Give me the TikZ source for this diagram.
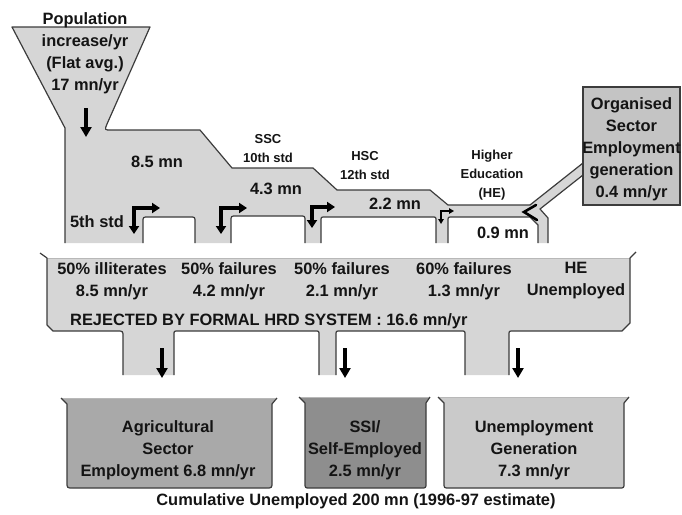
\documentclass[tikz,border=0pt]{standalone}
\usepackage{fontspec}
\setmainfont{Liberation Sans}
\usetikzlibrary{arrows.meta}
\definecolor{pipegray}{HTML}{D6D6D6}
\definecolor{edgegray}{HTML}{3C3C3C}
\definecolor{topline}{HTML}{B8B8B8}
\definecolor{agrigray}{HTML}{A9A9A9}
\definecolor{ssigray}{HTML}{8E8E8E}
\definecolor{unempgray}{HTML}{CACACA}
\definecolor{orggray}{HTML}{C4C4C4}
\definecolor{txt}{HTML}{141414}
\begin{document}
\begin{tikzpicture}[x=1pt,y=-1pt,
  outline/.style={draw=edgegray, line width=1.2pt, line join=round},
  faint/.style={draw=topline, line width=0.8pt},
  big/.style={font=\fontsize{16.4}{22}\selectfont\bfseries, align=center, inner sep=0pt, text=txt},
  small/.style={font=\fontsize{13}{19}\selectfont\bfseries, align=center, inner sep=0pt, text=txt},
  flow/.style={line width=3.2pt, -{Triangle[length=10pt,width=11pt]}},
  bent/.style={line width=3.2pt, {Triangle[length=8pt,width=10pt]}-{Triangle[length=8pt,width=10pt]}},
  thinbent/.style={line width=1.6pt, {Triangle[length=5pt,width=5.5pt]}-{Triangle[length=5pt,width=5.5pt]}},
]
\useasboundingbox (0,0) rectangle (682,514);

% ---------- upper pipe system ----------
\fill[pipegray] (65,243) -- (65,128) -- (12,27) -- (150,27) -- (107,124) .. controls (104.5,130) .. (111,130)
  -- (200,130) -- (232,168) -- (313,168) -- (337,190) -- (430,190) -- (448,205) -- (530,205) -- (583,163)
  -- (583,175) -- (540,209) -- (548,218) -- (548,243) -- (538,243) -- (538,225) -- (530,217)
  -- (452,217) .. controls (448,217) .. (448,221) -- (448,243) -- (436,243) -- (436,221) .. controls (436,217) .. (432,217)
  -- (325,217) .. controls (321,217) .. (321,221) -- (321,243) -- (305,243) -- (305,221) .. controls (305,216) .. (300,216)
  -- (236,216) .. controls (231,216) .. (231,221) -- (231,243) -- (195,243) -- (195,222) .. controls (195,217) .. (190,217)
  -- (148,217) .. controls (143,217) .. (143,222) -- (143,243) -- cycle;
\draw[outline] (65,243) -- (65,128) -- (12,27) -- (150,27) -- (107,124) .. controls (104.5,130) .. (111,130)
  -- (200,130) -- (232,168) -- (313,168) -- (337,190) -- (430,190) -- (448,205) -- (530,205) -- (583,163);
\draw[outline] (583,175) -- (540,209) -- (548,218) -- (548,243);
\draw[outline] (538,243) -- (538,225) -- (530,217) -- (452,217) .. controls (448,217) .. (448,221) -- (448,243);
\draw[outline] (436,243) -- (436,221) .. controls (436,217) .. (432,217) -- (325,217) .. controls (321,217) .. (321,221) -- (321,243);
\draw[outline] (305,243) -- (305,221) .. controls (305,216) .. (300,216) -- (236,216) .. controls (231,216) .. (231,221) -- (231,243);
\draw[outline] (195,243) -- (195,222) .. controls (195,217) .. (190,217) -- (148,217) .. controls (143,217) .. (143,222) -- (143,243);

% organised sector box
\filldraw[fill=orggray, draw=edgegray, line width=1.2pt] (583,87) rectangle (680,205);
\node[big] (org) at (631.5,149) {Organised\\Sector\\Employment\\generation\\0.4 mn/yr};

% ---------- rejected band ----------
\fill[pipegray] (47,258) -- (630,258) -- (630,323) -- (622,331) -- (513,331) .. controls (509,331) .. (509,335)
  -- (509,375) -- (465,375) -- (465,335) .. controls (465,331) .. (461,331) -- (340,331) .. controls (336,331) .. (336,335)
  -- (336,375) -- (319,375) -- (319,335) .. controls (319,331) .. (315,331) -- (178,331) .. controls (174,331) .. (174,335)
  -- (174,375) -- (123,375) -- (123,337) .. controls (123,331) .. (117,331) -- (53,331) -- (47,325) -- cycle;
\draw[faint] (47,258) -- (630,258);
\draw[outline] (40,253) -- (47,258) -- (47,325) -- (53,331) -- (117,331) .. controls (123,331) .. (123,337) -- (123,375);
\draw[outline] (174,375) -- (174,335) .. controls (174,331) .. (178,331) -- (315,331) .. controls (319,331) .. (319,335) -- (319,375);
\draw[outline] (336,375) -- (336,335) .. controls (336,331) .. (340,331) -- (461,331) .. controls (465,331) .. (465,335) -- (465,375);
\draw[outline] (509,375) -- (509,335) .. controls (509,331) .. (513,331) -- (622,331) -- (630,323) -- (630,258) -- (636,252);

% ---------- bottom containers ----------
\fill[agrigray] (61,398) -- (67,404) -- (67,482) .. controls (67,488) .. (73,488) -- (266,488) .. controls (272,488) .. (272,482) -- (272,404) -- (277,398) -- cycle;
\draw[faint] (61,398) -- (277,398);
\draw[outline] (61,398) -- (67,404) -- (67,482) .. controls (67,488) .. (73,488) -- (266,488) .. controls (272,488) .. (272,482) -- (272,404) -- (277,398);

\fill[ssigray] (299,397) -- (305,403) -- (305,483) .. controls (305,488) .. (310,488) -- (421,488) .. controls (426,488) .. (426,483) -- (426,403) -- (430,397) -- cycle;
\draw[faint] (299,397) -- (430,397);
\draw[outline] (299,397) -- (305,403) -- (305,483) .. controls (305,488) .. (310,488) -- (421,488) .. controls (426,488) .. (426,483) -- (426,403) -- (430,397);

\fill[unempgray] (438,397) -- (444,403) -- (444,483) .. controls (444,488) .. (449,488) -- (619,488) .. controls (624,488) .. (624,483) -- (624,403) -- (629,397) -- cycle;
\draw[faint] (438,397) -- (629,397);
\draw[outline] (438,397) -- (444,403) -- (444,483) .. controls (444,488) .. (449,488) -- (619,488) .. controls (624,488) .. (624,483) -- (624,403) -- (629,397);

% ---------- texts ----------
\node[big] (pop) at (85,53) {Population\\increase/yr\\(Flat avg.)\\17 mn/yr};
\node[big] (m85) at (157,162) {8.5 mn};
\node[big] (std5) at (97,222) {5th std};
\node[small] (ssc) at (268,149) {SSC\\10th std};
\node[big] (m43) at (276,189) {4.3 mn};
\node[small] (hsc) at (365,166) {HSC\\12th std};
\node[big] (m22) at (395,204) {2.2 mn};
\node[small] (he) at (492,175) {Higher\\Education\\(HE)};
\node[big] (m09) at (503,233) {0.9 mn};

\node[big] (c1) at (112,281) {50\% illiterates\\8.5 mn/yr};
\node[big] (c2) at (229,281) {50\% failures\\4.2 mn/yr};
\node[big] (c3) at (342,281) {50\% failures\\2.1 mn/yr};
\node[big] (c4) at (464,281) {60\% failures\\1.3 mn/yr};
\node[big] (c5) at (576,281) {HE\\Unemployed};
\node[big, anchor=west] (rej) at (70,321) {REJECTED BY FORMAL HRD SYSTEM : 16.6 mn/yr};

\node[big] (agri) at (168,450) {Agricultural\\Sector\\Employment 6.8 mn/yr};
\node[big] (ssi) at (365,450) {SSI/\\Self-Employed\\2.5 mn/yr};
\node[big] (unemp) at (534,450) {Unemployment\\Generation\\7.3 mn/yr};
\node[big] (cum) at (356,501) {Cumulative Unemployed 200 mn (1996-97 estimate)};

% ---------- arrows ----------
\coordinate (fa1) at (86,108); \coordinate (fa2) at (86,137);
\draw[flow] (fa1) -- (fa2);

\coordinate (b1d) at (134,234); \coordinate (b1c) at (134,208); \coordinate (b1r) at (160,208);
\draw[bent] (b1d) -- (b1c) -- (b1r);
\coordinate (b2d) at (221,234); \coordinate (b2c) at (221,208); \coordinate (b2r) at (247,208);
\draw[bent] (b2d) -- (b2c) -- (b2r);
\coordinate (b3d) at (312,228); \coordinate (b3c) at (312,207); \coordinate (b3r) at (335,207);
\draw[bent] (b3d) -- (b3c) -- (b3r);
\coordinate (b4d) at (441,224); \coordinate (b4c) at (441,211); \coordinate (b4r) at (454,211);
\draw[thinbent] (b4d) -- (b4c) -- (b4r);
\coordinate (vv) at (524,212); \coordinate (vu) at (536,205); \coordinate (vd) at (537,220);
\draw[line width=2.6pt, line cap=round, line join=miter] (vu) -- (vv) -- (vd);

\coordinate (d1a) at (162,348); \coordinate (d1b) at (162,378);
\draw[flow] (d1a) -- (d1b);
\coordinate (d2a) at (345,348); \coordinate (d2b) at (345,378);
\draw[flow] (d2a) -- (d2b);
\coordinate (d3a) at (518,348); \coordinate (d3b) at (518,378);
\draw[flow] (d3a) -- (d3b);
\end{tikzpicture}
\end{document}
